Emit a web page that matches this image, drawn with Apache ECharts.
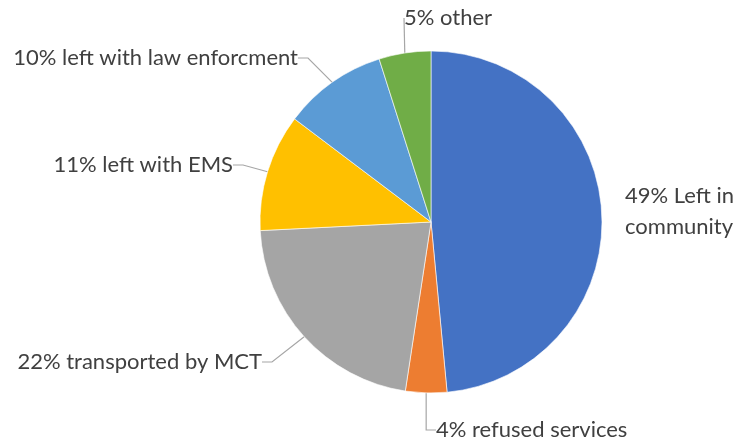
<!DOCTYPE html>
<html lang="en">
<head>
<meta charset="utf-8">
<script src="https://cdn.jsdelivr.net/npm/echarts@6/dist/echarts.min.js"></script>
<style>
	html, body { margin: 0; padding: 0; background: #fff; }
	#pie { width: 737px; height: 440px; }
</style>
</head>
<body>
<div id="pie"></div>
<script>
	// slices clockwise from 12 o'clock
	var names = ['49% Left in\ncommunity', '4% refused services', '22% transported by MCT',
		'11% left with EMS', '10% left with law enforcment', '5% other'];
	var values = [48.5, 3.9, 21.8, 11.1, 9.8, 4.9];
	var colors = ['#4472c4', '#ed7d31', '#a5a5a5', '#ffc000', '#5b9bd5', '#70ad47'];

	// where each label sits (x, y, align)
	var labelX = [625, 436, 262, 233, 298, 404];
	var labelY = [211, 430, 362, 165, 58, 18];
	var labelAlign = ['left', 'left', 'right', 'right', 'right', 'left'];

	var pie = echarts.init(document.getElementById('pie'));
	var data = names.map(function (n, i) {
		var d = { name: n, value: values[i], itemStyle: { color: colors[i] } };
		if (i === 0) d.labelLine = { show: false };
		return d;
	});

	pie.setOption({
		animation: false,
		series: [{
			type: 'pie',
			center: [431, 222],
			radius: 171,
			startAngle: 90,
			clockwise: true,
			data: data,
			itemStyle: { borderColor: '#fff', borderWidth: 0.6 },
			label: {
				show: true,
				formatter: '{b}',
				fontFamily: 'Lato',
				fontSize: 22,
				lineHeight: 31,
				color: '#404040',
				overflow: 'none'
			},
			labelLine: {
				show: true,
				length: 15,
				length2: 10,
				lineStyle: { color: '#a6a6a6', width: 1.2 }
			},
			labelLayout: function (p) {
				var i = p.dataIndex;
				return {
					x: labelX[i],
					y: labelY[i],
					align: labelAlign[i],
					verticalAlign: 'middle'
				};
			}
		}]
	});
</script>
</body>
</html>
